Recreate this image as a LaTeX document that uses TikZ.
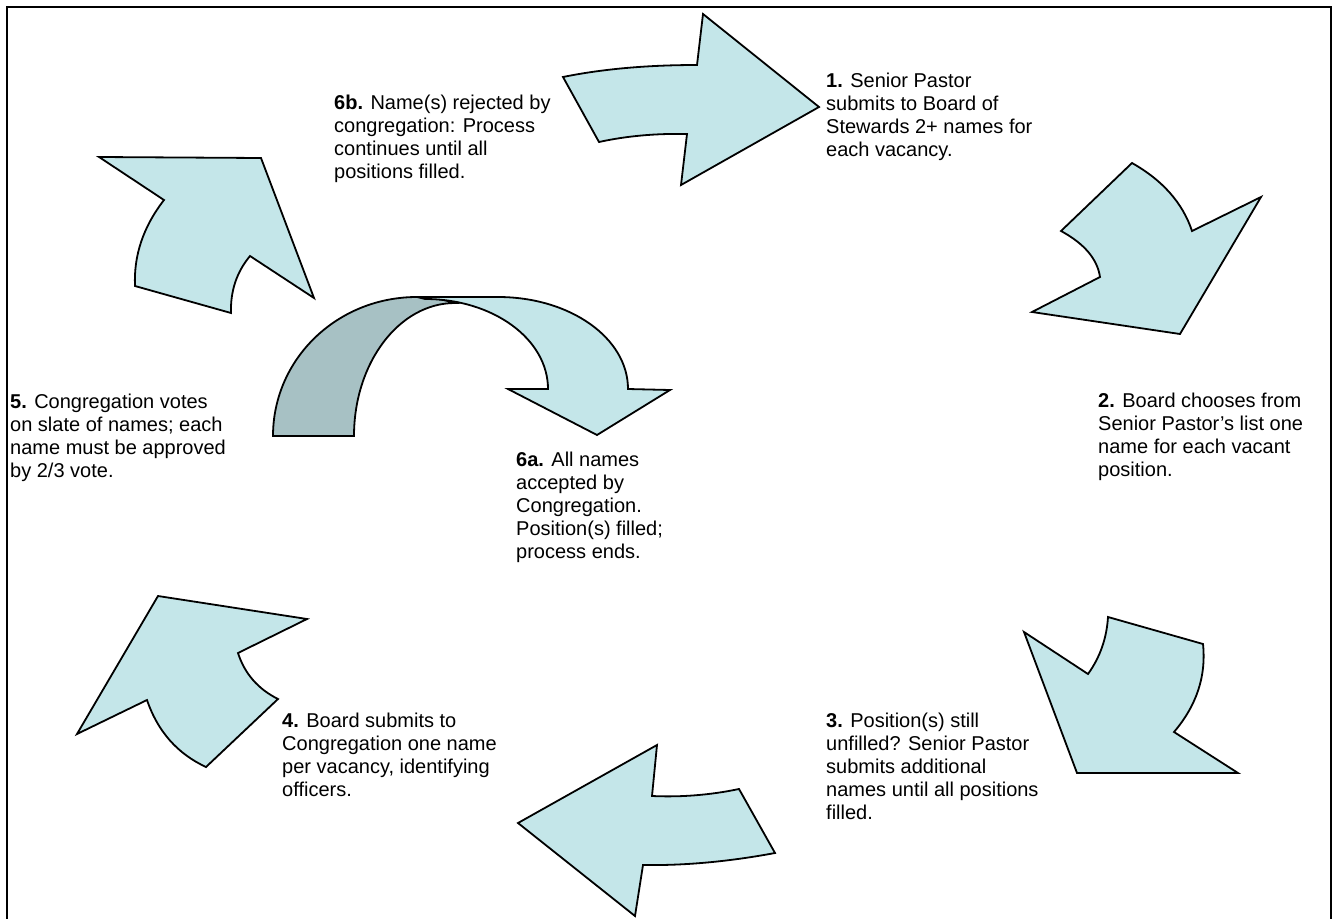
\documentclass[tikz,border=0pt]{standalone}
\usepackage{fontspec}
\setmainfont{Liberation Sans}
\usetikzlibrary{calc}
\definecolor{arrowfill}{RGB}{196,230,233}
\definecolor{arrowshade}{RGB}{167,193,196}
\begin{document}
\begin{tikzpicture}[x=1pt,y=-1pt,
  arrowbody/.style={draw=black, line width=1.8pt, fill=arrowfill, line join=miter},
  arrowback/.style={arrowbody, fill=arrowshade},
  frameline/.style={draw=black, line width=1.8pt},
  steptext/.style={anchor=base west, align=left, inner sep=0pt,
    font=\fontsize{20}{23}\selectfont}]
\useasboundingbox (0,0) rectangle (1335,918);
\fill[white] (0,0) rectangle (1335,918);
% open frame around the cycle
\draw[frameline] (7,925) -- (7,7) -- (1331,7) -- (1331,925);

% curved block arrows of the cycle (edges are quadratic curves through a control point)
\draw[arrowbody] (563,77)
  .. controls ($(563,77)!.667!(622,65)$) and ($(697,65)!.667!(622,65)$) .. (697,65)
  -- (703,14) -- (819,107) -- (681,185) -- (687,134)
  .. controls ($(687,134)!.667!(640,133)$) and ($(599,142)!.667!(640,133)$) .. (599,142) -- cycle;
\draw[arrowbody] (1132,163)
  .. controls ($(1132,163)!.667!(1178,189)$) and ($(1192,231)!.667!(1178,189)$) .. (1192,231)
  -- (1261,197) -- (1180,334) -- (1032,312) -- (1100,277)
  .. controls ($(1100,277)!.667!(1096,250)$) and ($(1061,231)!.667!(1096,250)$) .. (1061,231) -- cycle;
\draw[arrowbody] (1024,632) -- (1088,674)
  .. controls ($(1088,674)!.667!(1106,649)$) and ($(1108,617)!.667!(1106,649)$) .. (1108,617)
  -- (1203,644)
  .. controls ($(1203,644)!.667!(1208,692)$) and ($(1174,732)!.667!(1208,692)$) .. (1174,732)
  -- (1238,773) -- (1077,773) -- cycle;
\draw[arrowbody] (518,823) -- (657,745) -- (652,796)
  .. controls ($(652,796)!.667!(696,798)$) and ($(739,789)!.667!(696,798)$) .. (739,789)
  -- (775,853)
  .. controls ($(775,853)!.667!(705,866)$) and ($(643,865)!.667!(705,866)$) .. (643,865)
  -- (635,916) -- cycle;
\draw[arrowbody] (158,596) -- (307,619) -- (238,653)
  .. controls ($(238,653)!.667!(248,684)$) and ($(278,699)!.667!(248,684)$) .. (278,699)
  -- (206,767)
  .. controls ($(206,767)!.667!(163,747)$) and ($(147,700)!.667!(163,747)$) .. (147,700)
  -- (77,734) -- cycle;
\draw[arrowbody] (99,157) -- (261,158) -- (314,298) -- (250,256)
  .. controls ($(250,256)!.667!(230,280)$) and ($(231,313)!.667!(230,280)$) .. (231,313)
  -- (135,286)
  .. controls ($(135,286)!.667!(133,240)$) and ($(164,200)!.667!(133,240)$) .. (164,200) -- cycle;

% U-turn arrow: shaded back part, then the front part
\draw[arrowback] (273,436) .. controls (273,359) and (337,297) .. (417,297)
  .. controls (430,297) and (442,299) .. (455,303)
  .. controls (399,303) and (354,363) .. (354,436) -- cycle;
\draw[arrowbody] (417,297) -- (498,297) .. controls (570,297) and (628,338) .. (628,389)
  -- (670,390) -- (597,435) -- (508,389) -- (548,389)
  .. controls (548,339) and (493,299) .. (425,299) -- cycle;

% step descriptions (each node is placed by the baseline of its last line)
\node[steptext] (t1) at (826,156) {\textbf{1.} Senior Pastor\\submits to Board of\\Stewards 2+ names for\\each vacancy.};
\node[steptext] (t2) at (1098,476) {\textbf{2.} Board chooses from\\Senior Pastor’s list one\\name for each vacant\\position.};
\node[steptext] (t3) at (826,819) {\textbf{3.} Position(s) still\\unfilled? Senior Pastor\\submits additional\\names until all positions\\filled.};
\node[steptext] (t4) at (282,796) {\textbf{4.} Board submits to\\Congregation one name\\per vacancy, identifying\\officers.};
\node[steptext] (t5) at (10,477) {\textbf{5.} Congregation votes\\on slate of names; each\\name must be approved\\by 2/3 vote.};
\node[steptext] (t6a) at (516,558) {\textbf{6a.} All names\\accepted by\\Congregation.\\Position(s) filled;\\process ends.};
\node[steptext] (t6b) at (334,178) {\textbf{6b.} Name(s) rejected by\\congregation: Process\\continues until all\\positions filled.};
\end{tikzpicture}
\end{document}
